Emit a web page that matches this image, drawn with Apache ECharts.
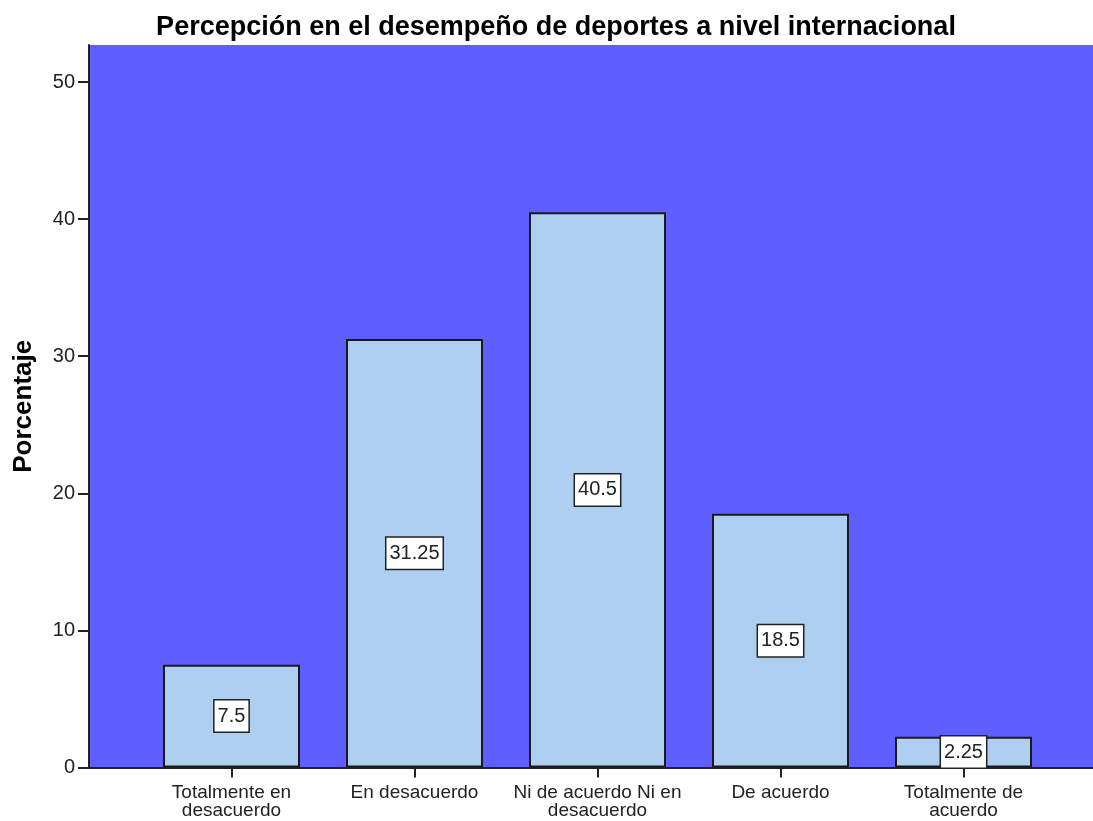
<!DOCTYPE html>
<html><head><meta charset="utf-8">
<script src="https://cdn.jsdelivr.net/npm/echarts@6/dist/echarts.min.js"></script>
<style>html,body{margin:0;padding:0;background:#fff}#c{width:1093px;height:821px}</style>
</head><body><div id="c"></div>
<script>
const categories = ["Totalmente en\ndesacuerdo", "En desacuerdo", "Ni de acuerdo Ni en\ndesacuerdo", "De acuerdo", "Totalmente de\nacuerdo"];
const values = [7.5, 31.25, 40.5, 18.5, 2.25];
const yTicks = [0, 10, 20, 30, 40, 50];
const title = "Percepción en el desempeño de deportes a nivel internacional";
const yName = "Porcentaje";

const FONT = "Liberation Sans, Arial, sans-serif";
const YMAX = 52.7;
const chart = echarts.init(document.getElementById('c'), null, {renderer: 'canvas'});
chart.setOption({
  animation: false,
  title: {text: title, left: 551, textAlign: 'center', top: 9,
    textStyle: {fontFamily: FONT, fontSize: 27, fontWeight: 'bold', color: '#000'}},
  grid: [
    {left: 89, right: 0, top: 45, bottom: 53.5, show: true, backgroundColor: '#5f5fff', borderWidth: 0},
    {left: 140, width: 915, top: 45, bottom: 53.5}
  ],
  xAxis: [
    {type: 'value', gridIndex: 0, min: 0, max: 1, show: true,
      axisLine: {show: true, onZero: false, lineStyle: {color: '#222', width: 2}},
      axisTick: {show: false}, axisLabel: {show: false}, splitLine: {show: false}},
    {type: 'category', gridIndex: 1, data: categories, boundaryGap: true,
      axisLine: {show: false},
      axisTick: {show: true, alignWithLabel: true, length: 10, lineStyle: {color: '#222', width: 2}},
      axisLabel: {fontFamily: FONT, fontSize: 19, color: '#222', lineHeight: 18, margin: 16, interval: 0}}
  ],
  yAxis: [
    {type: 'value', gridIndex: 0, min: 0, max: YMAX, interval: 10,
      name: yName, nameLocation: 'middle', nameGap: 52, nameRotate: 90,
      nameTextStyle: {fontFamily: FONT, fontSize: 26, fontWeight: 'bold', color: '#000'},
      axisLine: {show: true, lineStyle: {color: '#222', width: 2}},
      axisTick: {show: true, length: 11, lineStyle: {color: '#222', width: 2}, customValues: yTicks},
      axisLabel: {fontFamily: FONT, fontSize: 20, color: '#222', margin: 14, customValues: yTicks},
      splitLine: {show: false}},
    {type: 'value', gridIndex: 1, min: 0, max: YMAX, show: false, splitLine: {show: false}}
  ],
  series: [{
    type: 'bar', xAxisIndex: 1, yAxisIndex: 1, data: values, barWidth: 137,
    itemStyle: {color: '#aecff0', borderColor: '#1a1a1a', borderWidth: 2},
    label: {show: true, position: 'inside', fontFamily: FONT, fontSize: 20, color: '#222',
      backgroundColor: '#fff', borderColor: '#222', borderWidth: 1.5, padding: [6, 3, 5, 3],
      formatter: p => String(p.value)}
  }]
});
</script></body></html>
